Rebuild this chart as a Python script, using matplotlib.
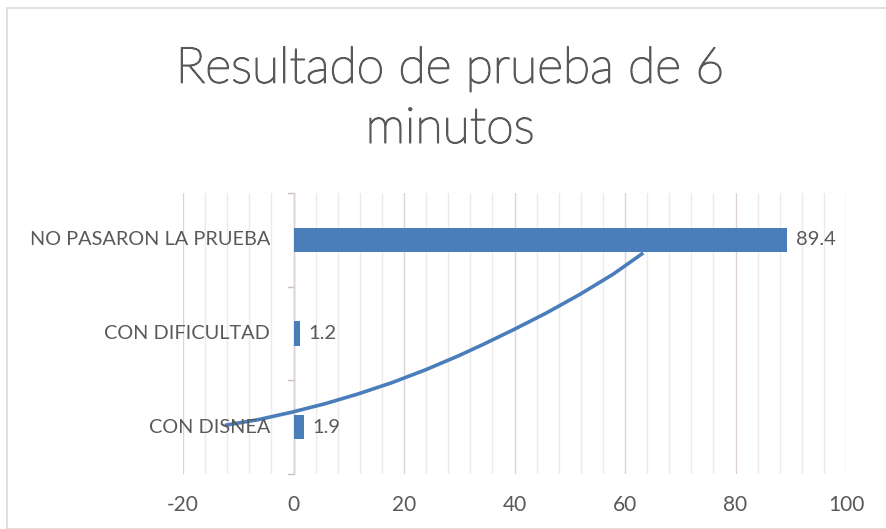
import matplotlib
matplotlib.use("Agg")
import matplotlib.pyplot as plt
import matplotlib.patheffects as pe
from matplotlib.patches import Rectangle
from matplotlib.ticker import MultipleLocator

categories = ["CON DISNEA", "CON DIFICULTAD", "NO PASARON LA PRUEBA"]
values = [1.9, 1.2, 89.4]
value_labels = ["1.9", "1.2", "89.4"]
x_ticks = [-20, 0, 20, 40, 60, 80, 100]

# hand-drawn curve: (value, category position)
curve_x = [-12.4, -6.4, -0.3, 5.7, 11.7, 17.8, 23.8, 29.8, 34.2,
           39.8, 45.8, 51.9, 57.9, 63.3]
curve_y = [0.02, 0.08, 0.16, 0.25, 0.355, 0.475, 0.61, 0.76, 0.88,
           1.04, 1.22, 1.42, 1.635, 1.86]

title = "Resultado de prueba de 6\nminutos"

W, H = 886, 529
fig = plt.figure(figsize=(W / 100, H / 100), dpi=100)
fig.patch.set_facecolor("white")

# chart border
fig.patches.append(Rectangle((7 / W, 0), 1.0, 1 - 8 / H, transform=fig.transFigure,
                             fill=False, edgecolor="#d9d9d9", linewidth=1.2))

ax = fig.add_axes([183 / W, 55 / H, (846 - 183) / W, (474 - 193) / H])

text_color = "#595959"
bar_color = "#4a7ebb"
fam = ["Lato", "DejaVu Sans"]

pos = list(range(len(categories)))
ax.barh(pos, values, height=0.26, color=bar_color, zorder=3)
ax.plot(curve_x, curve_y, color="#4a7ebb", linewidth=2.6, zorder=2,
        solid_capstyle="butt", solid_joinstyle="round")

for p, v, lab in zip(pos, values, value_labels):
    ax.annotate(lab, (v, p), xytext=(6, 0), textcoords="offset points",
                va="center", ha="left", fontsize=14.5,
                color=text_color, family=fam, zorder=4)

# category labels beside the category axis at x = 0
for p, c in zip(pos, categories):
    ax.annotate(c, (0, p), xytext=(-17, 0), textcoords="offset points",
                va="center", ha="right", fontsize=14.3,
                color=text_color, family=fam, zorder=4, annotation_clip=False)

ax.set_xlim(-20, 100)
ax.set_ylim(-0.5, 2.5)
ax.set_xticks(x_ticks)
ax.set_xticklabels([str(t) for t in x_ticks])
ax.xaxis.set_minor_locator(MultipleLocator(4))
ax.grid(axis="x", which="major", color="#dcd3d2", linewidth=1.0, zorder=0)
ax.grid(axis="x", which="minor", color="#eeeaea", linewidth=1.0, zorder=0)
ax.tick_params(axis="x", which="both", length=0, pad=15, labelsize=15,
               labelcolor=text_color)
for lbl in ax.get_xticklabels():
    lbl.set_family(fam)

ax.set_yticks([])

for s in ax.spines.values():
    s.set_visible(False)

# category axis at x = 0 with boundary ticks
ax.axvline(0, color="#c9c0bf", linewidth=1.0, zorder=1)
for b in [0.5, 1.5, 2.5, -0.5]:
    ax.plot([-1.0, 0], [b, b], color="#c9c0bf", linewidth=1.0, zorder=1,
            clip_on=False)

fig.text(0.508, 1 - 99 / H, title, ha="center", va="center", fontsize=36,
         color=text_color, family=fam, fontweight="light", linespacing=1.42,
         path_effects=[pe.withStroke(linewidth=1.1, foreground=text_color)])

fig.savefig("out.png", dpi=100, facecolor="white")
